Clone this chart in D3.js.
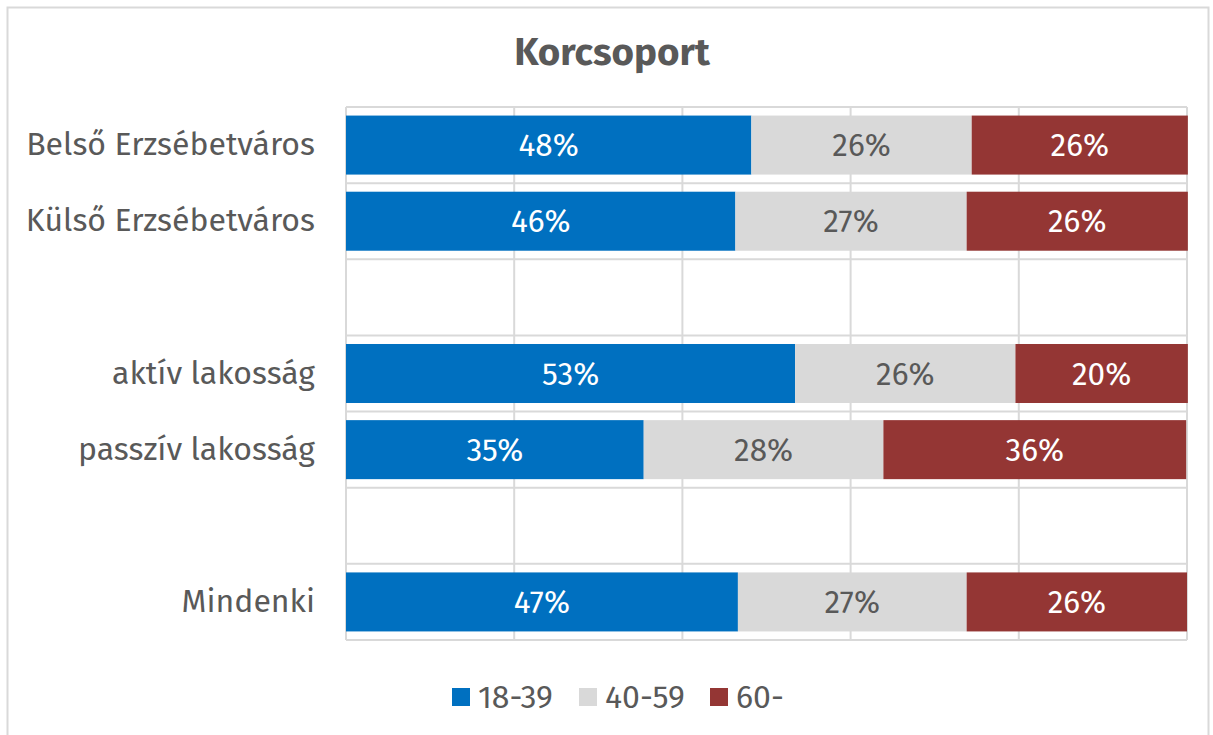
<!DOCTYPE html>
<html><head><meta charset="utf-8">
<script src="https://cdn.jsdelivr.net/npm/d3@7"></script>
<style>body{margin:0;background:#fff}svg{display:block}</style>
</head><body>
<svg id="c" width="1213" height="735"></svg>
<script>
const title = "Korcsoport";
const categories = ["Belső Erzsébetváros", "Külső Erzsébetváros", "", "aktív lakosság", "passzív lakosság", "", "Mindenki"];
const series = ["18-39", "40-59", "60-"];
const v1839 = [48.2, 46.3, null, 53.4, 35.4, null, 46.6];
const v4059 = [26.2, 27.5, null, 26.2, 28.5, null, 27.2];
const v60 = [25.7, 26.3, null, 20.5, 36.0, null, 26.2];
const labels1839 = ["48%", "46%", "", "53%", "35%", "", "47%"];
const labels4059 = ["26%", "27%", "", "26%", "28%", "", "27%"];
const labels60 = ["26%", "26%", "", "20%", "36%", "", "26%"];
const xTicks = [0, 20, 40, 60, 80, 100];
const colors = ["#0070C0", "#D9D9D9", "#943634"];
const labelColors = ["#ffffff", "#595959", "#ffffff"];

const font = "'Fira Sans','Noto Sans',sans-serif";
const svg = d3.select("#c");
svg.append("rect").attr("x", 7.5).attr("y", 7.5).attr("width", 1201).attr("height", 740)
  .attr("fill", "#fff").attr("stroke", "#D9D9D9").attr("stroke-width", 2);

const L = 346, R = 1187, T = 107, B = 640;
const idx = categories.map((d, i) => i);
const x = d3.scaleLinear().domain([0, 100]).range([L, R]);
const y = d3.scaleBand().domain(idx).range([T, B]).paddingInner(0.225).paddingOuter(0.1125);
const yFull = d3.scaleBand().domain(idx).range([T, B]);

// gridlines
const g = svg.append("g");
g.selectAll("line.v").data(xTicks).join("line")
  .attr("x1", d => x(d)).attr("x2", d => x(d)).attr("y1", T).attr("y2", B)
  .attr("stroke", "#D9D9D9").attr("stroke-width", 2);
const hb = idx.map(i => yFull(i)).concat([B]);
g.selectAll("line.h").data(hb).join("line")
  .attr("x1", L).attr("x2", R).attr("y1", d => d).attr("y2", d => d)
  .attr("stroke", "#D9D9D9").attr("stroke-width", 2);

const vals = [v1839, v4059, v60];
const labs = [labels1839, labels4059, labels60];
const rows = idx.filter(i => v1839[i] != null).map(i => {
  let acc = 0;
  return vals.map((arr, s) => { const seg = {i, s, x0: acc, x1: acc + arr[i], label: labs[s][i]}; acc += arr[i]; return seg; });
}).flat();

svg.append("g").selectAll("rect").data(rows).join("rect")
  .attr("x", d => x(d.x0)).attr("width", d => x(d.x1) - x(d.x0))
  .attr("y", d => y(d.i)).attr("height", y.bandwidth())
  .attr("fill", d => colors[d.s]);

svg.append("g").selectAll("text").data(rows).join("text")
  .attr("x", d => (x(d.x0) + x(d.x1)) / 2).attr("y", d => y(d.i) + y.bandwidth() / 2)
  .attr("dy", "0.35em").attr("text-anchor", "middle")
  .attr("font-family", font).attr("font-size", 31.5).attr("fill", d => labelColors[d.s])
  .text(d => d.label);

// y axis labels
const yAxis = d3.axisLeft(yFull).tickSize(0).tickPadding(31).tickFormat(i => categories[i]);
const ya = svg.append("g").attr("transform", `translate(${L},0)`).call(yAxis);
ya.select(".domain").remove();
ya.selectAll("text").attr("font-family", font).attr("font-size", 32).attr("fill", "#595959");

// title
svg.append("text").attr("x", 612).attr("y", 52).attr("dy", "0.35em").attr("text-anchor", "middle")
  .attr("font-family", font).attr("font-weight", "bold").attr("font-size", 38.5).attr("fill", "#595959")
  .text(title);

// legend
const legX = [452, 579, 710];
const lg = svg.append("g").selectAll("g").data(series).join("g")
  .attr("transform", (d, i) => `translate(${legX[i]},697)`);
lg.append("rect").attr("x", 0).attr("y", -9).attr("width", 18).attr("height", 18).attr("fill", (d, i) => colors[i]);
lg.append("text").attr("x", 26).attr("dy", "0.35em").attr("font-family", font).attr("font-size", 32)
  .attr("fill", "#595959").text(d => d);
</script>
</body></html>
